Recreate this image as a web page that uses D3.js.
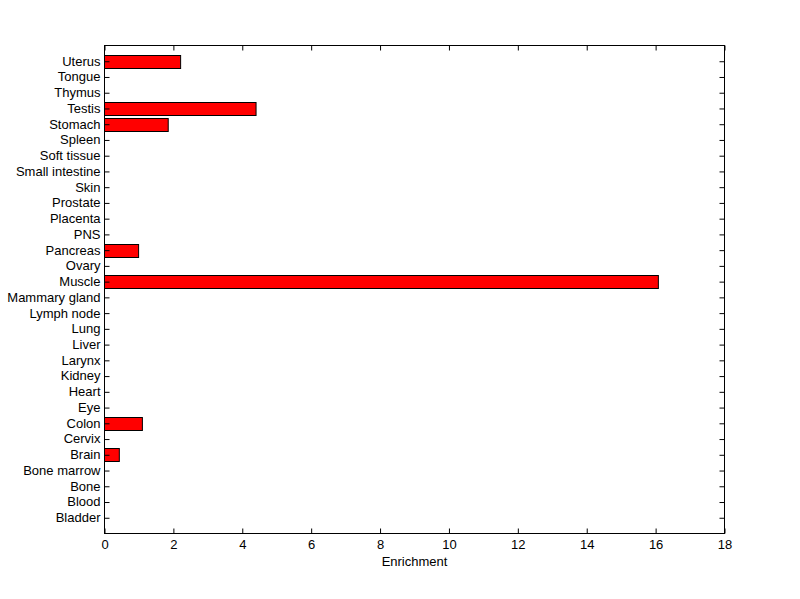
<!DOCTYPE html>
<html><head><meta charset="utf-8">
<script src="https://cdn.jsdelivr.net/npm/d3@7"></script>
<style>body{margin:0;background:#fff}svg{display:block}text{font-family:"Liberation Sans",Arial,sans-serif;font-size:13px;fill:#000}</style>
</head><body><svg id="c" width="800" height="599"></svg>
<script>
const categories = ["Bladder","Blood","Bone","Bone marrow","Brain","Cervix","Colon","Eye","Heart","Kidney","Larynx","Liver","Lung","Lymph node","Mammary gland","Muscle","Ovary","Pancreas","PNS","Placenta","Prostate","Skin","Small intestine","Soft tissue","Spleen","Stomach","Testis","Thymus","Tongue","Uterus"];
const values = [0,0,0,0,0.43,0,1.10,0,0,0,0,0,0,0,0,16.08,0,0.99,0,0,0,0,0,0,0,1.85,4.40,0,0,2.21];
const xTicks = [0,2,4,6,8,10,12,14,16,18];
const xLabel = "Enrichment";

const svg = d3.select("#c");
const L=104.5,R=724.5,T=45.5,B=533.5;
const x = d3.scaleLinear().domain([0,18]).range([L,R]);
const y = d3.scaleLinear().domain([0,categories.length+1]).range([B,T]);
svg.append("rect").attr("width",800).attr("height",599).attr("fill","#fff");
const bh = (B-T)/(categories.length+1)*0.8;
values.forEach((v,i)=>{ if(v>0) svg.append("rect").attr("class","bar")
  .attr("x",x(0)).attr("width",x(v)-x(0))
  .attr("y",Math.round(y(i+1)-bh/2)+0.5).attr("height",Math.round(bh))
  .attr("fill","#ff0000").attr("stroke","#000").attr("stroke-width",1);});
const font = "'Liberation Sans',Arial,sans-serif";
const gx = svg.append("g").attr("transform",`translate(0,${B})`)
  .call(d3.axisBottom(x).tickValues(xTicks).tickSize(-5).tickPadding(6).tickFormat(d3.format("d")));
const gxt = svg.append("g").attr("transform",`translate(0,${T})`)
  .call(d3.axisTop(x).tickValues(xTicks).tickSize(-5).tickFormat(""));
const yt = d3.range(1,categories.length+1);
const gy = svg.append("g").attr("transform",`translate(${L},0)`)
  .call(d3.axisLeft(y).tickValues(yt).tickSize(-5).tickPadding(4).tickFormat(d=>categories[d-1]));
const gyr = svg.append("g").attr("transform",`translate(${R},0)`)
  .call(d3.axisRight(y).tickValues(yt).tickSize(-5).tickFormat(""));
[gx,gxt,gy,gyr].forEach(g=>{g.select(".domain").remove();g.selectAll("line").attr("stroke","#000");g.selectAll("text").attr("fill","#000").style("font-size","13px").style("font-family",font);});
gy.selectAll("text").attr("dy","0.3em");
svg.append("rect").attr("x",L).attr("y",T).attr("width",R-L).attr("height",B-T).attr("fill","none").attr("stroke","#000");
svg.append("text").attr("x",(L+R)/2).attr("y",566).attr("text-anchor","middle").text(xLabel);
</script></body></html>
